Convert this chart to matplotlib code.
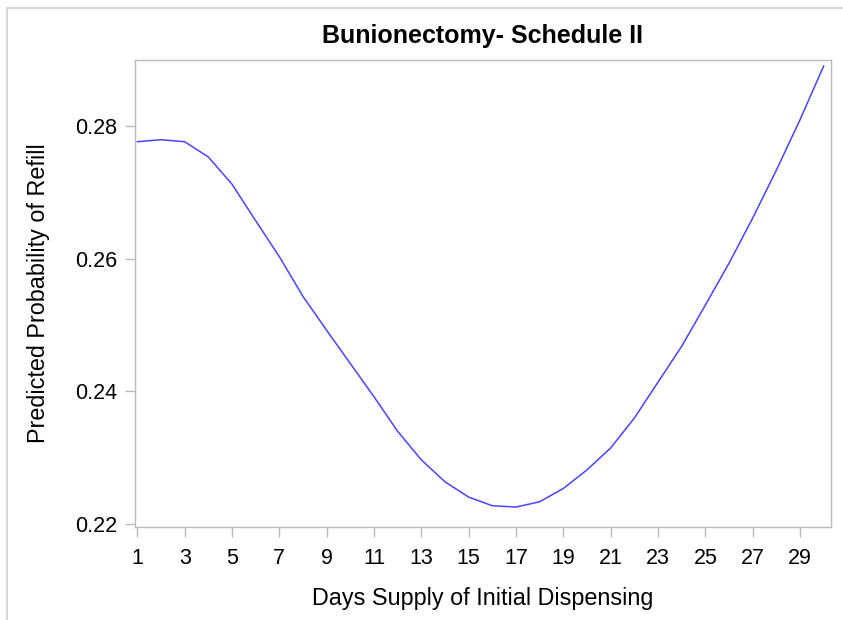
import matplotlib
matplotlib.use("Agg")
import matplotlib.pyplot as plt
from matplotlib.patches import Rectangle

days = list(range(1, 31))
prob = [0.2776, 0.2779, 0.2776, 0.2753, 0.2712, 0.2657, 0.2603, 0.2543, 0.2492, 0.2442,
        0.2392, 0.2340, 0.2297, 0.2264, 0.2241, 0.2228, 0.2226, 0.2234, 0.2254, 0.2282,
        0.2315, 0.2360, 0.2414, 0.2468, 0.2530, 0.2593, 0.2661, 0.2733, 0.2809, 0.2890]
xticks = list(range(1, 30, 2))
yticks = [0.22, 0.24, 0.26, 0.28]

plt.rcParams['font.family'] = ['Liberation Sans', 'DejaVu Sans']

fig = plt.figure(figsize=(8.43, 6.2), dpi=100)
# light outer frame (left and top edges visible)
fig.patches.append(Rectangle((6.5 / 843, -0.1), 1.2, 1.1 - 8.5 / 620,
                             transform=fig.transFigure, fill=False,
                             edgecolor='#d0d0d0', linewidth=1.2))

ax = fig.add_axes([135 / 843, 1 - 527 / 620, (831 - 135) / 843, (527 - 60) / 620])
ax.plot(days, prob, color='#4646ff', linewidth=1.1)

ax.set_xlim(0.90, 30.31)
ax.set_ylim(0.2196, 0.2899)
ax.set_xticks(xticks)
ax.set_yticks(yticks)
ax.set_yticklabels(['%.2f' % v for v in yticks])

for s in ax.spines.values():
    s.set_color('#b8bcbf')
    s.set_linewidth(1.0)
ax.tick_params(direction='out', length=7, width=1, color='#b8bcbf',
               labelsize=15.5, labelcolor='black', pad=6)
ax.tick_params(axis='x', pad=8)

ax.set_xlabel('Days Supply of Initial Dispensing', fontsize=16.8, labelpad=13)
ax.set_ylabel('Predicted Probability of Refill', fontsize=16.8, labelpad=18)
ax.set_title('Bunionectomy- Schedule II', fontsize=18, fontweight='bold', pad=12)

fig.savefig('out.png', dpi=100)
